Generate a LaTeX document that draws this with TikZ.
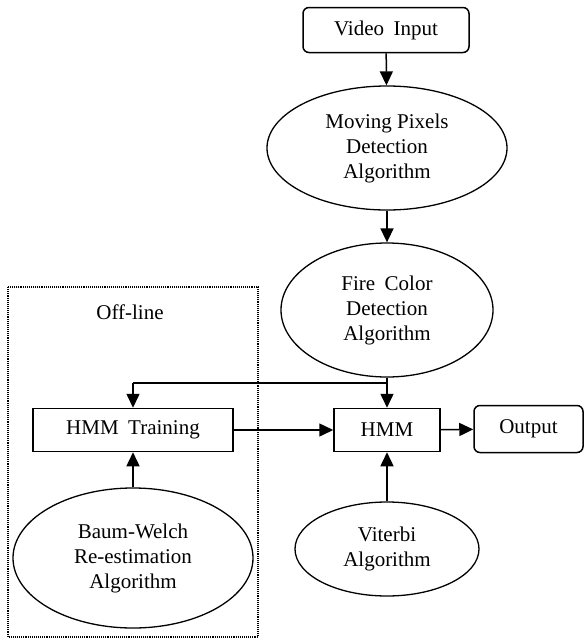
\documentclass[tikz,border=0pt]{standalone}
\usepackage{fontspec}
\setmainfont{Liberation Serif}
\usetikzlibrary{shapes.geometric,arrows.meta}
\begin{document}
\begin{tikzpicture}[x=1pt,y=-1pt,
  every node/.style={font=\fontsize{21}{25}\selectfont, align=center, inner sep=0pt},
  rbox/.style={draw, line width=1.5pt, rounded corners=6pt},
  sbox/.style={draw, line width=1.5pt},
  ell/.style={draw, ellipse, line width=1.3pt},
  conn/.style={line width=1.5pt, -{Triangle[width=13pt,length=14pt]}},
  plain/.style={line width=1.5pt}]
\useasboundingbox (0,0) rectangle (584,641);
\node[rbox, minimum width=166pt, minimum height=45pt] (vin) at (386,30) {Video\hspace{0.45em}Input};
\node[ell, minimum width=240pt, minimum height=124pt] (mp) at (387,148) {Moving Pixels\\Detection\\Algorithm};
\node[ell, minimum width=212pt, minimum height=134pt] (fc) at (387,310) {Fire\hspace{0.45em}Color\\Detection\\Algorithm};
\node[sbox, minimum width=200pt, minimum height=43pt] (hmmt) at (133,430) {HMM\hspace{0.45em}Training};
\node[sbox, minimum width=106pt, minimum height=43pt] (hmm) at (387,430) {HMM};
\node[rbox, minimum width=109pt, minimum height=47pt] (out) at (528.5,429) {Output};
\node[ell, minimum width=240pt, minimum height=140pt] (bw) at (133,558) {Baum-Welch\\Re-estimation\\Algorithm};
\node[ell, minimum width=184pt, minimum height=94pt] (vit) at (387,549) {Viterbi\\Algorithm};
\node (offl) at (130,312) {Off-line};
\draw[densely dotted, line width=1.1pt] (8,287) rectangle (258,637);
\coordinate (br) at (387,383);
\coordinate (bl) at (133,383);
\draw[conn] (vin) -- (mp);
\draw[conn] (mp) -- (fc);
\draw[conn] (fc) -- (hmm);
\draw[plain] (br) -- (bl);
\draw[conn] (bl) -- (hmmt);
\draw[conn] (hmmt) -- (hmm);
\draw[conn] (hmm) -- (out);
\draw[conn] (bw) -- (hmmt);
\draw[conn] (vit) -- (hmm);
\end{tikzpicture}
\end{document}
